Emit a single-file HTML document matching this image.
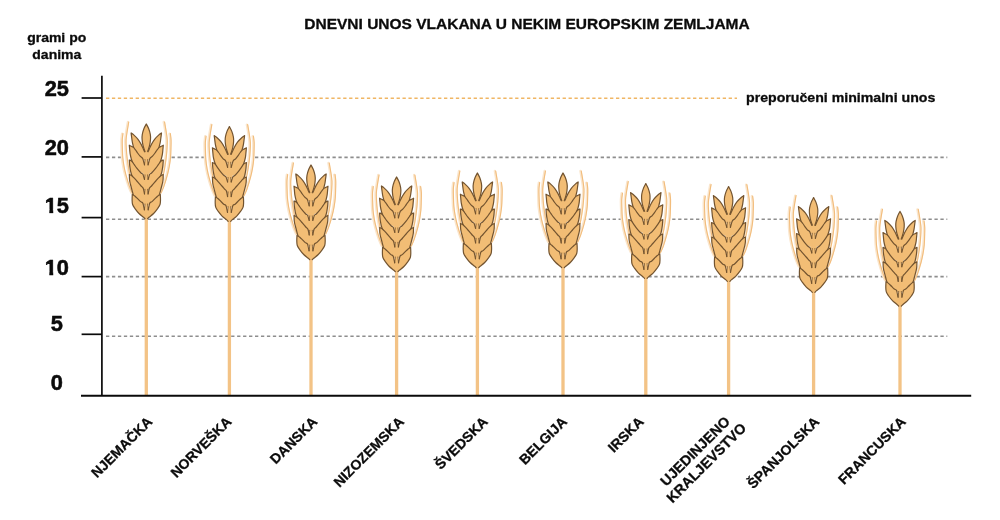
<!DOCTYPE html>
<html lang="hr"><head><meta charset="utf-8"><title>Dnevni unos vlakana</title>
<style>
html,body{margin:0;padding:0;background:#fff;}
body{width:1000px;height:520px;overflow:hidden;}
svg{display:block;}
text{font-family:"Liberation Sans",Arial,Helvetica,sans-serif;font-weight:bold;fill:#0b0b0b;stroke:#0b0b0b;stroke-width:0.3px;stroke-linejoin:round;}
.t{font-size:14.5px;}
.n{font-size:21.8px;stroke-width:0.55px;}
.u{font-size:13.1px;}
.c{font-size:14px;}
.r{font-size:13.22px;}
</style></head><body>
<svg width="1000" height="520" viewBox="0 0 1000 520">
<defs>
<clipPath id="one"><rect x="-1" y="-19" width="14" height="15.9"/><rect x="4.65" y="-3.2" width="3.87" height="4.2"/></clipPath>
<g id="w">
<path d="M-17.90,-2.00 C-18.18,-0.33 -19.15,5.00 -19.60,8.00 C-20.05,11.00 -20.43,14.67 -20.60,16.00 L-23.70,9.60 C-23.82,10.67 -24.30,13.60 -24.40,16.00 C-24.50,18.40 -24.38,21.12 -24.30,24.00 C-24.22,26.88 -24.17,30.30 -23.90,33.30 C-23.63,36.30 -23.22,39.12 -22.70,42.00 C-22.18,44.88 -21.70,47.25 -20.80,50.60 C-19.90,53.95 -18.37,59.03 -17.30,62.10 C-16.23,65.17 -14.88,67.85 -14.40,69.00 L14.40,69.00 C14.88,67.85 16.23,65.17 17.30,62.10 C18.37,59.03 19.90,53.95 20.80,50.60 C21.70,47.25 22.18,44.88 22.70,42.00 C23.22,39.12 23.63,36.30 23.90,33.30 C24.17,30.30 24.22,26.88 24.30,24.00 C24.38,21.12 24.50,18.40 24.40,16.00 C24.30,13.60 23.82,10.67 23.70,9.60 L20.60,16.00 C20.43,14.67 20.05,11.00 19.60,8.00 C19.15,5.00 18.18,-0.33 17.90,-2.00Z" fill="#fff" stroke="none"/>
<g fill="none" stroke-linecap="round"><g stroke="#fae6cd" stroke-width="2.4"><path d="M23.25,9.60 C23.37,10.67 23.85,13.60 23.95,16.00 C24.05,18.40 23.93,21.12 23.85,24.00 C23.77,26.88 23.72,30.30 23.45,33.30 C23.18,36.30 22.77,39.12 22.25,42.00 C21.73,44.88 21.25,47.25 20.35,50.60 C19.45,53.95 17.92,59.03 16.85,62.10 C15.78,65.17 14.43,67.85 13.95,69.00"/>
<path d="M17.45,-2.00 C17.73,-0.33 18.70,5.00 19.15,8.00 C19.60,11.00 20.02,13.33 20.15,16.00 C20.28,18.67 20.12,21.12 19.95,24.00 C19.78,26.88 19.57,29.83 19.15,33.30 C18.73,36.77 17.93,41.92 17.45,44.80 C16.97,47.68 16.45,49.63 16.25,50.60"/>
<path d="M-24.15,9.60 C-24.27,10.67 -24.75,13.60 -24.85,16.00 C-24.95,18.40 -24.83,21.12 -24.75,24.00 C-24.67,26.88 -24.62,30.30 -24.35,33.30 C-24.08,36.30 -23.67,39.12 -23.15,42.00 C-22.63,44.88 -22.15,47.25 -21.25,50.60 C-20.35,53.95 -18.82,59.03 -17.75,62.10 C-16.68,65.17 -15.33,67.85 -14.85,69.00"/>
<path d="M-18.35,-2.00 C-18.63,-0.33 -19.60,5.00 -20.05,8.00 C-20.50,11.00 -20.92,13.33 -21.05,16.00 C-21.18,18.67 -21.02,21.12 -20.85,24.00 C-20.68,26.88 -20.47,29.83 -20.05,33.30 C-19.63,36.77 -18.83,41.92 -18.35,44.80 C-17.87,47.68 -17.35,49.63 -17.15,50.60"/></g>
<g stroke="#f2bd7d" stroke-width="1.15"><path d="M24.05,9.60 C24.17,10.67 24.65,13.60 24.75,16.00 C24.85,18.40 24.73,21.12 24.65,24.00 C24.57,26.88 24.52,30.30 24.25,33.30 C23.98,36.30 23.57,39.12 23.05,42.00 C22.53,44.88 22.05,47.25 21.15,50.60 C20.25,53.95 18.72,59.03 17.65,62.10 C16.58,65.17 15.23,67.85 14.75,69.00"/>
<path d="M18.25,-2.00 C18.53,-0.33 19.50,5.00 19.95,8.00 C20.40,11.00 20.82,13.33 20.95,16.00 C21.08,18.67 20.92,21.12 20.75,24.00 C20.58,26.88 20.37,29.83 19.95,33.30 C19.53,36.77 18.73,41.92 18.25,44.80 C17.77,47.68 17.25,49.63 17.05,50.60"/>
<path d="M-23.35,9.60 C-23.47,10.67 -23.95,13.60 -24.05,16.00 C-24.15,18.40 -24.03,21.12 -23.95,24.00 C-23.87,26.88 -23.82,30.30 -23.55,33.30 C-23.28,36.30 -22.87,39.12 -22.35,42.00 C-21.83,44.88 -21.35,47.25 -20.45,50.60 C-19.55,53.95 -18.02,59.03 -16.95,62.10 C-15.88,65.17 -14.53,67.85 -14.05,69.00"/>
<path d="M-17.55,-2.00 C-17.83,-0.33 -18.80,5.00 -19.25,8.00 C-19.70,11.00 -20.12,13.33 -20.25,16.00 C-20.38,18.67 -20.22,21.12 -20.05,24.00 C-19.88,26.88 -19.67,29.83 -19.25,33.30 C-18.83,36.77 -18.03,41.92 -17.55,44.80 C-17.07,47.68 -16.55,49.63 -16.35,50.60"/></g></g>
<g fill="#f2bd75" stroke="#72532f" stroke-width="1.2" stroke-linejoin="round" stroke-linecap="round">
<path d="M-3,22 H3 V90 L1.6,94.8 H-1.6 L-3,90Z" stroke="none"/>
<path d="M0.00,0.00 C-0.40,0.80 -1.73,3.07 -2.40,4.80 C-3.07,6.53 -3.70,8.67 -4.00,10.40 C-4.30,12.13 -4.30,13.47 -4.20,15.20 C-4.10,16.93 -3.77,19.07 -3.40,20.80 C-3.03,22.53 -2.37,24.43 -2.00,25.60 C-1.63,26.77 -1.33,27.43 -1.20,27.80 L1.20,27.80 C1.33,27.43 1.63,26.77 2.00,25.60 C2.37,24.43 3.03,22.53 3.40,20.80 C3.77,19.07 4.10,16.93 4.20,15.20 C4.30,13.47 4.30,12.13 4.00,10.40 C3.70,8.67 3.07,6.53 2.40,4.80 C1.73,3.07 0.40,0.80 0.00,0.00Z" stroke="none"/>
<path d="M-1.20,27.80 C-1.33,27.43 -1.63,26.77 -2.00,25.60 C-2.37,24.43 -3.03,22.53 -3.40,20.80 C-3.77,19.07 -4.10,16.93 -4.20,15.20 C-4.30,13.47 -4.30,12.13 -4.00,10.40 C-3.70,8.67 -3.07,6.53 -2.40,4.80 C-1.73,3.07 -0.40,0.80 0.00,0.00 C0.40,0.80 1.73,3.07 2.40,4.80 C3.07,6.53 3.70,8.67 4.00,10.40 C4.30,12.13 4.30,13.47 4.20,15.20 C4.10,16.93 3.77,19.07 3.40,20.80 C3.03,22.53 2.37,24.43 2.00,25.60 C1.63,26.77 1.33,27.43 1.20,27.80" fill="none"/>
<path d="M1.70,27.80 C1.88,27.40 2.25,26.60 2.80,25.40 C3.35,24.20 4.08,22.28 5.00,20.60 C5.92,18.92 7.03,16.92 8.30,15.30 C9.57,13.68 11.45,11.95 12.60,10.90 C13.75,9.85 14.77,9.32 15.20,9.00 C15.12,9.65 14.90,11.40 14.70,12.90 C14.50,14.40 14.30,16.38 14.00,18.00 C13.70,19.62 13.20,21.43 12.90,22.60 C12.60,23.77 13.02,23.43 12.20,25.00 C11.38,26.57 9.78,30.17 8.00,32.00 C6.22,33.83 2.58,35.33 1.50,36.00 L0.70,36.00 L0.70,27.80Z" stroke="none"/>
<path d="M1.70,27.80 C1.88,27.40 2.25,26.60 2.80,25.40 C3.35,24.20 4.08,22.28 5.00,20.60 C5.92,18.92 7.03,16.92 8.30,15.30 C9.57,13.68 11.45,11.95 12.60,10.90 C13.75,9.85 14.77,9.32 15.20,9.00 C15.12,9.65 14.90,11.40 14.70,12.90 C14.50,14.40 14.30,16.38 14.00,18.00 C13.70,19.62 13.20,21.43 12.90,22.60 C12.60,23.77 12.32,24.60 12.20,25.00" fill="none"/>
<path d="M-1.70,27.80 C-1.88,27.40 -2.25,26.60 -2.80,25.40 C-3.35,24.20 -4.08,22.28 -5.00,20.60 C-5.92,18.92 -7.03,16.92 -8.30,15.30 C-9.57,13.68 -11.45,11.95 -12.60,10.90 C-13.75,9.85 -14.77,9.32 -15.20,9.00 C-15.12,9.65 -14.90,11.40 -14.70,12.90 C-14.50,14.40 -14.30,16.38 -14.00,18.00 C-13.70,19.62 -13.20,21.43 -12.90,22.60 C-12.60,23.77 -13.02,23.43 -12.20,25.00 C-11.38,26.57 -9.78,30.17 -8.00,32.00 C-6.22,33.83 -2.58,35.33 -1.50,36.00 L-0.70,36.00 L-0.70,27.80Z" stroke="none"/>
<path d="M-1.70,27.80 C-1.88,27.40 -2.25,26.60 -2.80,25.40 C-3.35,24.20 -4.08,22.28 -5.00,20.60 C-5.92,18.92 -7.03,16.92 -8.30,15.30 C-9.57,13.68 -11.45,11.95 -12.60,10.90 C-13.75,9.85 -14.77,9.32 -15.20,9.00 C-15.12,9.65 -14.90,11.40 -14.70,12.90 C-14.50,14.40 -14.30,16.38 -14.00,18.00 C-13.70,19.62 -13.20,21.43 -12.90,22.60 C-12.60,23.77 -12.32,24.60 -12.20,25.00" fill="none"/>
<path d="M3.60,34.60 C4.03,34.20 5.35,33.13 6.20,32.20 C7.05,31.27 7.93,30.05 8.70,29.00 C9.47,27.95 10.10,26.83 10.80,25.90 C11.50,24.97 12.22,24.00 12.90,23.40 C13.58,22.80 14.22,22.67 14.90,22.30 C15.58,21.93 16.65,21.38 17.00,21.20 C16.93,21.92 16.75,24.00 16.60,25.50 C16.45,27.00 16.35,28.68 16.10,30.20 C15.85,31.72 15.37,33.57 15.10,34.60 C14.83,35.63 14.77,35.58 14.50,36.40 C14.23,37.22 14.42,37.90 13.50,39.50 C12.58,41.10 11.00,44.25 9.00,46.00 C7.00,47.75 2.75,49.33 1.50,50.00 L0.70,50.00 L0.70,34.60Z" stroke="none"/>
<path d="M1.30,35.60 L1.80,40.80" fill="none" stroke-width="0.8"/>
<path d="M1.80,40.80 C2.10,39.77 2.87,36.03 3.60,34.60 C4.33,33.17 5.35,33.13 6.20,32.20 C7.05,31.27 7.93,30.05 8.70,29.00 C9.47,27.95 10.10,26.83 10.80,25.90 C11.50,24.97 12.22,24.00 12.90,23.40 C13.58,22.80 14.22,22.67 14.90,22.30 C15.58,21.93 16.65,21.38 17.00,21.20 C16.93,21.92 16.75,24.00 16.60,25.50 C16.45,27.00 16.35,28.68 16.10,30.20 C15.85,31.72 15.37,33.57 15.10,34.60 C14.83,35.63 14.77,35.58 14.50,36.40 C14.23,37.22 13.67,38.98 13.50,39.50" fill="none"/>
<path d="M-3.60,34.60 C-4.03,34.20 -5.35,33.13 -6.20,32.20 C-7.05,31.27 -7.93,30.05 -8.70,29.00 C-9.47,27.95 -10.10,26.83 -10.80,25.90 C-11.50,24.97 -12.22,24.00 -12.90,23.40 C-13.58,22.80 -14.22,22.67 -14.90,22.30 C-15.58,21.93 -16.65,21.38 -17.00,21.20 C-16.93,21.92 -16.75,24.00 -16.60,25.50 C-16.45,27.00 -16.35,28.68 -16.10,30.20 C-15.85,31.72 -15.37,33.57 -15.10,34.60 C-14.83,35.63 -14.77,35.58 -14.50,36.40 C-14.23,37.22 -14.42,37.90 -13.50,39.50 C-12.58,41.10 -11.00,44.25 -9.00,46.00 C-7.00,47.75 -2.75,49.33 -1.50,50.00 L-0.70,50.00 L-0.70,34.60Z" stroke="none"/>
<path d="M-1.30,35.60 L-1.80,40.80" fill="none" stroke-width="0.8"/>
<path d="M-1.80,40.80 C-2.10,39.77 -2.87,36.03 -3.60,34.60 C-4.33,33.17 -5.35,33.13 -6.20,32.20 C-7.05,31.27 -7.93,30.05 -8.70,29.00 C-9.47,27.95 -10.10,26.83 -10.80,25.90 C-11.50,24.97 -12.22,24.00 -12.90,23.40 C-13.58,22.80 -14.22,22.67 -14.90,22.30 C-15.58,21.93 -16.65,21.38 -17.00,21.20 C-16.93,21.92 -16.75,24.00 -16.60,25.50 C-16.45,27.00 -16.35,28.68 -16.10,30.20 C-15.85,31.72 -15.37,33.57 -15.10,34.60 C-14.83,35.63 -14.77,35.58 -14.50,36.40 C-14.23,37.22 -13.67,38.98 -13.50,39.50" fill="none"/>
<path d="M3.40,50.30 C3.67,50.12 4.40,49.72 5.00,49.20 C5.60,48.68 6.25,48.03 7.00,47.20 C7.75,46.37 8.67,45.28 9.50,44.20 C10.33,43.12 11.17,41.87 12.00,40.70 C12.83,39.53 13.67,37.98 14.50,37.20 C15.33,36.42 16.58,36.20 17.00,36.00 C16.93,36.90 16.78,39.73 16.60,41.40 C16.42,43.07 16.13,44.70 15.90,46.00 C15.67,47.30 15.43,48.33 15.20,49.20 C14.97,50.07 14.78,50.40 14.50,51.20 C14.22,52.00 14.42,52.37 13.50,54.00 C12.58,55.63 11.00,59.17 9.00,61.00 C7.00,62.83 2.75,64.33 1.50,65.00 L0.70,65.00 L0.70,50.30Z" stroke="none"/>
<path d="M1.30,50.90 L1.80,55.40" fill="none" stroke-width="0.8"/>
<path d="M1.80,55.40 C2.07,54.55 2.87,51.33 3.40,50.30 C3.93,49.27 4.40,49.72 5.00,49.20 C5.60,48.68 6.25,48.03 7.00,47.20 C7.75,46.37 8.67,45.28 9.50,44.20 C10.33,43.12 11.17,41.87 12.00,40.70 C12.83,39.53 13.67,37.98 14.50,37.20 C15.33,36.42 16.58,36.20 17.00,36.00 C16.93,36.90 16.78,39.73 16.60,41.40 C16.42,43.07 16.13,44.70 15.90,46.00 C15.67,47.30 15.43,48.33 15.20,49.20 C14.97,50.07 14.78,50.40 14.50,51.20 C14.22,52.00 13.67,53.53 13.50,54.00" fill="none"/>
<path d="M-3.40,50.30 C-3.67,50.12 -4.40,49.72 -5.00,49.20 C-5.60,48.68 -6.25,48.03 -7.00,47.20 C-7.75,46.37 -8.67,45.28 -9.50,44.20 C-10.33,43.12 -11.17,41.87 -12.00,40.70 C-12.83,39.53 -13.67,37.98 -14.50,37.20 C-15.33,36.42 -16.58,36.20 -17.00,36.00 C-16.93,36.90 -16.78,39.73 -16.60,41.40 C-16.42,43.07 -16.13,44.70 -15.90,46.00 C-15.67,47.30 -15.43,48.33 -15.20,49.20 C-14.97,50.07 -14.78,50.40 -14.50,51.20 C-14.22,52.00 -14.42,52.37 -13.50,54.00 C-12.58,55.63 -11.00,59.17 -9.00,61.00 C-7.00,62.83 -2.75,64.33 -1.50,65.00 L-0.70,65.00 L-0.70,50.30Z" stroke="none"/>
<path d="M-1.30,50.90 L-1.80,55.40" fill="none" stroke-width="0.8"/>
<path d="M-1.80,55.40 C-2.07,54.55 -2.87,51.33 -3.40,50.30 C-3.93,49.27 -4.40,49.72 -5.00,49.20 C-5.60,48.68 -6.25,48.03 -7.00,47.20 C-7.75,46.37 -8.67,45.28 -9.50,44.20 C-10.33,43.12 -11.17,41.87 -12.00,40.70 C-12.83,39.53 -13.67,37.98 -14.50,37.20 C-15.33,36.42 -16.58,36.20 -17.00,36.00 C-16.93,36.90 -16.78,39.73 -16.60,41.40 C-16.42,43.07 -16.13,44.70 -15.90,46.00 C-15.67,47.30 -15.43,48.33 -15.20,49.20 C-14.97,50.07 -14.78,50.40 -14.50,51.20 C-14.22,52.00 -13.67,53.53 -13.50,54.00" fill="none"/>
<path d="M2.90,64.70 C3.17,64.37 3.82,63.50 4.50,62.70 C5.18,61.90 6.17,60.85 7.00,59.90 C7.83,58.95 8.67,57.95 9.50,57.00 C10.33,56.05 11.17,55.08 12.00,54.20 C12.83,53.32 13.68,52.32 14.50,51.70 C15.32,51.08 16.50,50.70 16.90,50.50 C16.88,51.28 16.90,53.87 16.80,55.20 C16.70,56.53 16.53,57.37 16.30,58.50 C16.07,59.63 15.75,60.65 15.40,62.00 C15.05,63.35 14.55,65.28 14.20,66.60 C13.85,67.92 13.62,68.92 13.30,69.90 C12.98,70.88 13.18,70.98 12.30,72.50 C11.42,74.02 9.80,77.25 8.00,79.00 C6.20,80.75 2.58,82.33 1.50,83.00 L0.70,83.00 L0.70,64.70Z" stroke="none"/>
<path d="M1.30,65.30 L1.80,70.00" fill="none" stroke-width="0.8"/>
<path d="M1.80,70.00 C1.98,69.12 2.45,65.92 2.90,64.70 C3.35,63.48 3.82,63.50 4.50,62.70 C5.18,61.90 6.17,60.85 7.00,59.90 C7.83,58.95 8.67,57.95 9.50,57.00 C10.33,56.05 11.17,55.08 12.00,54.20 C12.83,53.32 13.68,52.32 14.50,51.70 C15.32,51.08 16.50,50.70 16.90,50.50 C16.88,51.28 16.90,53.87 16.80,55.20 C16.70,56.53 16.53,57.37 16.30,58.50 C16.07,59.63 15.75,60.65 15.40,62.00 C15.05,63.35 14.55,65.28 14.20,66.60 C13.85,67.92 13.62,68.92 13.30,69.90 C12.98,70.88 12.47,72.07 12.30,72.50" fill="none"/>
<path d="M-2.90,64.70 C-3.17,64.37 -3.82,63.50 -4.50,62.70 C-5.18,61.90 -6.17,60.85 -7.00,59.90 C-7.83,58.95 -8.67,57.95 -9.50,57.00 C-10.33,56.05 -11.17,55.08 -12.00,54.20 C-12.83,53.32 -13.68,52.32 -14.50,51.70 C-15.32,51.08 -16.50,50.70 -16.90,50.50 C-16.88,51.28 -16.90,53.87 -16.80,55.20 C-16.70,56.53 -16.53,57.37 -16.30,58.50 C-16.07,59.63 -15.75,60.65 -15.40,62.00 C-15.05,63.35 -14.55,65.28 -14.20,66.60 C-13.85,67.92 -13.62,68.92 -13.30,69.90 C-12.98,70.88 -13.18,70.98 -12.30,72.50 C-11.42,74.02 -9.80,77.25 -8.00,79.00 C-6.20,80.75 -2.58,82.33 -1.50,83.00 L-0.70,83.00 L-0.70,64.70Z" stroke="none"/>
<path d="M-1.30,65.30 L-1.80,70.00" fill="none" stroke-width="0.8"/>
<path d="M-1.80,70.00 C-1.98,69.12 -2.45,65.92 -2.90,64.70 C-3.35,63.48 -3.82,63.50 -4.50,62.70 C-5.18,61.90 -6.17,60.85 -7.00,59.90 C-7.83,58.95 -8.67,57.95 -9.50,57.00 C-10.33,56.05 -11.17,55.08 -12.00,54.20 C-12.83,53.32 -13.68,52.32 -14.50,51.70 C-15.32,51.08 -16.50,50.70 -16.90,50.50 C-16.88,51.28 -16.90,53.87 -16.80,55.20 C-16.70,56.53 -16.53,57.37 -16.30,58.50 C-16.07,59.63 -15.75,60.65 -15.40,62.00 C-15.05,63.35 -14.55,65.28 -14.20,66.60 C-13.85,67.92 -13.62,68.92 -13.30,69.90 C-12.98,70.88 -12.47,72.07 -12.30,72.50" fill="none"/>
<path d="M3.40,79.20 C3.78,78.93 4.85,78.32 5.70,77.60 C6.55,76.88 7.58,75.80 8.50,74.90 C9.42,74.00 10.28,72.97 11.20,72.20 C12.12,71.43 13.53,70.62 14.00,70.30 C14.03,71.23 14.25,74.20 14.20,75.90 C14.15,77.60 14.18,79.05 13.70,80.50 C13.22,81.95 12.37,83.10 11.30,84.60 C10.23,86.10 8.73,88.05 7.30,89.50 C5.87,90.95 3.70,92.43 2.70,93.30 C1.70,94.17 1.53,94.47 1.30,94.70 L0.70,94.70 L0.70,79.20Z" stroke="none"/>
<path d="M1.30,80.00 L1.90,85.80" fill="none" stroke-width="0.8"/>
<path d="M1.90,85.80 C2.15,84.70 2.77,80.57 3.40,79.20 C4.03,77.83 4.85,78.32 5.70,77.60 C6.55,76.88 7.58,75.80 8.50,74.90 C9.42,74.00 10.28,72.97 11.20,72.20 C12.12,71.43 13.53,70.62 14.00,70.30 C14.03,71.23 14.25,74.20 14.20,75.90 C14.15,77.60 14.18,79.05 13.70,80.50 C13.22,81.95 12.37,83.10 11.30,84.60 C10.23,86.10 8.73,88.05 7.30,89.50 C5.87,90.95 3.70,92.43 2.70,93.30 C1.70,94.17 1.53,94.47 1.30,94.70" fill="none"/>
<path d="M-3.40,79.20 C-3.78,78.93 -4.85,78.32 -5.70,77.60 C-6.55,76.88 -7.58,75.80 -8.50,74.90 C-9.42,74.00 -10.28,72.97 -11.20,72.20 C-12.12,71.43 -13.53,70.62 -14.00,70.30 C-14.03,71.23 -14.25,74.20 -14.20,75.90 C-14.15,77.60 -14.18,79.05 -13.70,80.50 C-13.22,81.95 -12.37,83.10 -11.30,84.60 C-10.23,86.10 -8.73,88.05 -7.30,89.50 C-5.87,90.95 -3.70,92.43 -2.70,93.30 C-1.70,94.17 -1.53,94.47 -1.30,94.70 L-0.70,94.70 L-0.70,79.20Z" stroke="none"/>
<path d="M-1.30,80.00 L-1.90,85.80" fill="none" stroke-width="0.8"/>
<path d="M-1.90,85.80 C-2.15,84.70 -2.77,80.57 -3.40,79.20 C-4.03,77.83 -4.85,78.32 -5.70,77.60 C-6.55,76.88 -7.58,75.80 -8.50,74.90 C-9.42,74.00 -10.28,72.97 -11.20,72.20 C-12.12,71.43 -13.53,70.62 -14.00,70.30 C-14.03,71.23 -14.25,74.20 -14.20,75.90 C-14.15,77.60 -14.18,79.05 -13.70,80.50 C-13.22,81.95 -12.37,83.10 -11.30,84.60 C-10.23,86.10 -8.73,88.05 -7.30,89.50 C-5.87,90.95 -3.70,92.43 -2.70,93.30 C-1.70,94.17 -1.53,94.47 -1.30,94.70" fill="none"/>
<path d="M-2.70,35.60 L-2.05,38.20 L-1.70,36.40Z M2.70,35.60 L2.05,38.20 L1.70,36.40Z M-2.50,51.30 L-2.05,52.80 L-1.70,51.70Z M2.50,51.30 L2.05,52.80 L1.70,51.70Z M-2.00,65.70 L-2.05,67.40 L-1.70,66.10Z M2.00,65.70 L2.05,67.40 L1.70,66.10Z M-2.50,80.20 L-2.15,83.20 L-1.70,80.80Z M2.50,80.20 L2.15,83.20 L1.70,80.80Z" fill="#fff" stroke="none" opacity="0.5"/>
</g>
</g>
</defs>
<rect width="1000" height="520" fill="#fff"/>

<g stroke="#8e8e8e" stroke-width="1.6" stroke-dasharray="3.3 2.66" fill="none">
<path d="M106,157.4 H947.3"/>
<path d="M106,219.2 H947.3"/>
<path d="M106,276.6 H947.3"/>
<path d="M106,336.2 H947.3"/>
</g>
<path d="M106,98.3 H737" stroke="#f0b664" stroke-width="1.6" stroke-dasharray="3.3 2.63" fill="none"/>
<g fill="#f3c386">
<rect x="144.65" y="217.5" width="3.3" height="178.5"/>
<rect x="227.75" y="220.1" width="3.3" height="175.9"/>
<rect x="309.35" y="258.5" width="3.3" height="137.5"/>
<rect x="394.95" y="270.5" width="3.3" height="125.5"/>
<rect x="475.75" y="266.5" width="3.3" height="129.5"/>
<rect x="561.35" y="266.5" width="3.3" height="129.5"/>
<rect x="644.15" y="277.1" width="3.3" height="118.9"/>
<rect x="726.95" y="280.1" width="3.3" height="115.9"/>
<rect x="811.95" y="291.1" width="3.3" height="104.9"/>
<rect x="898.35" y="304.9" width="3.3" height="91.1"/>
</g>
<use href="#w" x="146.3" y="124.0"/>
<use href="#w" x="229.4" y="126.6"/>
<use href="#w" x="311.0" y="165.0"/>
<use href="#w" x="396.6" y="177.0"/>
<use href="#w" x="477.4" y="173.0"/>
<use href="#w" x="563.0" y="173.0"/>
<use href="#w" x="645.8" y="183.6"/>
<use href="#w" x="728.6" y="186.6"/>
<use href="#w" x="813.6" y="197.6"/>
<use href="#w" x="900.0" y="211.4"/>
<g stroke="#0a0a0a" stroke-width="1.7" fill="none">
<path d="M101.9,75.8 V396"/><path d="M81,395.7 H971.2" stroke-width="1.9"/>
<path d="M81.6,98 H102"/>
<path d="M81.6,156.9 H102"/>
<path d="M81.6,217.6 H102"/>
<path d="M81.6,276.6 H102"/>
<path d="M81.6,334.3 H102"/>
</g>
<text class="t" transform="translate(527,29) scale(1.07,1)" text-anchor="middle">DNEVNI UNOS VLAKANA U NEKIM EUROPSKIM ZEMLJAMA</text>
<text class="u" transform="translate(56.7,42.2) scale(1.07,1)" text-anchor="middle">grami po</text>
<text class="u" transform="translate(56.8,59.4) scale(1.07,1)" text-anchor="middle">danima</text>
<text class="n" transform="translate(56.8,95.7) scale(1,1.04)" text-anchor="middle">25</text>
<text class="n" transform="translate(56.8,155.1) scale(1,1.04)" text-anchor="middle">20</text>
<g transform="translate(44.68,212.7) scale(1,1.04)"><text class="n" clip-path="url(#one)">1</text><text class="n" x="12.12">5</text></g>
<g transform="translate(44.68,275.0) scale(1,1.04)"><text class="n" clip-path="url(#one)">1</text><text class="n" x="12.12">0</text></g>
<text class="n" transform="translate(56.8,331.3) scale(1,1.04)" text-anchor="middle">5</text>
<text class="n" transform="translate(56.8,390.2) scale(1,1.04)" text-anchor="middle">0</text>
<text class="r" transform="translate(746,101.8) scale(1.07,1)">preporučeni minimalni unos</text>
<text class="c" text-anchor="end" transform="translate(153.2,422.5) rotate(-45)">NJEMAČKA</text>
<text class="c" text-anchor="end" transform="translate(232.4,422.5) rotate(-45)">NORVEŠKA</text>
<text class="c" text-anchor="end" transform="translate(318.2,422.5) rotate(-45)">DANSKA</text>
<text class="c" text-anchor="end" transform="translate(404.9,422.5) rotate(-45)">NIZOZEMSKA</text>
<text class="c" text-anchor="end" transform="translate(488.7,422.5) rotate(-45)">ŠVEDSKA</text>
<text class="c" text-anchor="end" transform="translate(567.8,422.5) rotate(-45)">BELGIJA</text>
<text class="c" text-anchor="end" transform="translate(644.6,422.5) rotate(-45)">IRSKA</text>
<text class="c" style="font-size:14.3px" text-anchor="end" transform="translate(730.8,422.3) rotate(-45)">UJEDINJENO</text>
<text class="c" style="font-size:14.3px" text-anchor="end" transform="translate(747.2,429.0) rotate(-45)">KRALJEVSTVO</text>
<text class="c" text-anchor="end" transform="translate(820.2,422.5) rotate(-45)">ŠPANJOLSKA</text>
<text class="c" text-anchor="end" transform="translate(906.7,422.5) rotate(-45)">FRANCUSKA</text>
</svg></body></html>
